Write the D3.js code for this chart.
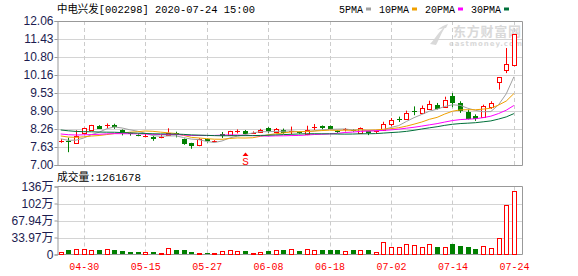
<!DOCTYPE html>
<html>
<head>
<meta charset="utf-8">
<title>中电兴发 K线</title>
<script src="https://d3js.org/d3.v7.min.js"></script>
<style>
  body { margin: 0; background: #fff; }
  svg { display: block; }
</style>
</head>
<body>
<script>
// trading days shown (2020)
var dates = ["04-27","04-28","04-29","04-30","05-06","05-07","05-08","05-11","05-12","05-13",
             "05-14","05-15","05-18","05-19","05-20","05-21","05-22","05-25","05-26","05-27",
             "05-28","05-29","06-01","06-02","06-03","06-04","06-05","06-08","06-09","06-10",
             "06-11","06-12","06-15","06-16","06-17","06-18","06-19","06-22","06-23","06-24",
             "06-29","06-30","07-01","07-02","07-03","07-06","07-07","07-08","07-09","07-10",
             "07-13","07-14","07-15","07-16","07-17","07-20","07-21","07-22","07-23","07-24"];
var opens  = [7.84,7.83,7.76,8.10,8.23,8.37,8.37,8.41,8.22,8.11,
              8.06,8.01,7.99,7.96,8.06,8.11,7.91,7.76,7.69,7.90,
              7.83,8.08,8.04,8.19,8.21,8.13,8.17,8.29,8.17,8.22,
              8.17,8.15,8.09,8.33,8.38,8.37,8.20,8.22,8.24,8.12,
              8.18,8.14,8.22,8.43,8.63,8.63,8.89,8.83,8.98,9.12,
              9.06,9.41,9.18,8.86,8.71,8.68,9.03,9.94,10.33,10.53];
var highs  = [7.91,7.96,8.22,8.31,8.41,8.40,8.46,8.45,8.25,8.14,
              8.08,8.09,8.02,8.05,8.29,8.17,7.93,7.78,7.94,7.93,
              7.87,8.16,8.20,8.25,8.23,8.18,8.27,8.33,8.30,8.28,
              8.35,8.17,8.38,8.44,8.39,8.39,8.22,8.30,8.26,8.32,
              8.20,8.20,8.52,8.65,8.70,8.91,9.06,9.09,9.26,9.18,
              9.40,9.53,9.24,8.94,8.78,9.12,9.24,10.10,11.11,11.61];
var lows   = [7.78,7.45,7.74,8.08,8.22,8.27,8.29,8.27,8.04,8.03,
              8.01,7.97,7.85,7.94,8.02,7.97,7.71,7.57,7.66,7.79,
              7.80,7.95,8.02,8.11,8.08,8.10,8.14,8.13,8.12,8.10,
              8.08,8.10,8.05,8.23,8.25,8.25,8.13,8.18,8.17,8.10,
              8.05,8.12,8.20,8.36,8.51,8.62,8.75,8.80,8.94,8.95,
              9.03,9.03,8.83,8.60,8.55,8.66,8.97,9.65,10.23,10.47];
var closes = [7.85,7.78,8.02,8.29,8.39,8.28,8.39,8.33,8.11,8.08,
              8.03,8.03,7.91,8.00,8.14,8.04,7.73,7.64,7.90,7.83,
              7.85,8.00,8.18,8.20,8.11,8.14,8.23,8.17,8.26,8.13,
              8.19,8.11,8.22,8.35,8.30,8.27,8.16,8.25,8.19,8.30,
              8.11,8.18,8.44,8.57,8.62,8.83,8.86,9.00,9.14,8.98,
              9.30,9.15,8.91,8.63,8.61,9.06,9.18,10.10,10.55,11.61];
// volume, 万
var volumes = [4,8,11.4,11.4,8.8,8,11,9.4,7.4,5.4,
               5.4,5,5.4,3.4,12.8,8,8,4,3,3.4,
               3.4,7.4,9.4,7.4,7.4,3.4,5.4,6,9.4,8,
               10.7,7.4,10.7,9.4,8,9.4,9.4,7.4,8,9.4,
               9.4,5.4,25.4,15.4,14.7,20.7,18.7,14.7,20.7,15.4,
               14.7,21.4,17.4,15.4,11.4,16.7,12.7,32.7,98.7,126.1678];
// closes before 04-27, needed for the moving averages
var prevCloses = [8.62,8.70,8.55,8.48,8.60,8.52,8.41,8.45,8.38,8.40,
                  8.30,8.22,8.15,8.20,8.12,8.08,8.18,8.14,8.10,8.11,
                  8.16,8.13,8.10,8.12,8.09,8.05,7.98,7.92,7.80];

var priceTicks = [7.00, 7.63, 8.26, 8.90, 9.53, 10.16, 10.80, 11.43, 12.06];
var volTicks = [0, 33.97, 67.94, 101.91, 135.88];
var volTickLabels = ["0", "33.97万", "67.94万", "102万", "136万"];
var xTickDates = ["04-30","05-15","05-27","06-08","06-18","07-02","07-14","07-24"];
var maPeriods = [5, 10, 20, 30];
var maNames = ["5PMA", "10PMA", "20PMA", "30PMA"];
var maColors = ["#a0a0a0", "#f0a000", "#ff00ff", "#00703a"];
var signalDate = "06-03";

var W = 578, H = 276;
var left = 57, right = 522;
var red = "#ff0000", green = "#008000";
var mono = "'Liberation Mono','Noto Sans CJK SC',monospace";

var svg = d3.select("body").append("svg").attr("width", W).attr("height", H);

var x = d3.scalePoint().domain(dates).range([60.7, 513.9]);
var y = d3.scaleLinear().domain([7.00, 12.06]).range([165, 21]);
var yv = d3.scaleLinear().domain([0, 135.88]).range([254.5, 186.5]);

function px(v) { return Math.round(v) + 0.5; }
function monoText(sel, str) {
  var n = 0;
  for (var k = 0; k < str.length; k++) n += str.charCodeAt(k) > 255 ? 2 : 1;
  sel.attr("font-family", mono).attr("font-size", 11)
     .attr("textLength", n * 6).attr("lengthAdjust", "spacingAndGlyphs").text(str);
}

// title + legend
monoText(svg.append("text").attr("x", 57).attr("y", 13).attr("fill", "#000"),
         "中电兴发[002298] 2020-07-24 15:00");
var lx = 339;
maNames.forEach(function(nm, k) {
  monoText(svg.append("text").attr("x", lx).attr("y", 13).attr("fill", "#000"), nm);
  var tw = nm.length * 6;
  svg.append("rect").attr("x", lx + tw + 3).attr("y", 7.5).attr("width", 5).attr("height", 3)
     .attr("fill", maColors[k]);
  lx += tw + 3 + 5 + 8;
});

// watermark
var wm = svg.append("g").attr("fill", "#d9d9d9");
wm.append("path").attr("d", "M430,44 C436,38 438,32 446,26 C441,33 440,38 436,45 Z M437,30 C441,27 444,25 448,24 L446,28 C443,28 440,29 437,30 Z");
wm.append("text").attr("x", 453).attr("y", 36).attr("font-family", "'Noto Sans CJK SC'")
  .attr("font-size", 13).attr("font-weight", "bold").attr("textLength", 68).text("东方财富网");
wm.append("text").attr("x", 449).attr("y", 46).attr("font-family", "'DejaVu Sans'")
  .attr("font-size", 7).attr("font-weight", "bold").attr("textLength", 73).text("eastmoney.com");

// ---- price panel grid
var gp = svg.append("g");
gp.selectAll(".hg").data(priceTicks.slice(1, -1)).enter().append("line")
  .attr("x1", left).attr("x2", right)
  .attr("y1", function(d) { return px(y(d)); }).attr("y2", function(d) { return px(y(d)); })
  .attr("stroke", "#d4d4d4");
gp.selectAll(".vg").data(xTickDates).enter().append("line")
  .attr("x1", function(d) { return px(x(d)); }).attr("x2", function(d) { return px(x(d)); })
  .attr("y1", 21).attr("y2", 165)
  .attr("stroke", "#cccccc").attr("stroke-dasharray", "4,3");
gp.append("path").attr("d", "M" + (left + 0.5) + ",21.5H" + (right + 0.5) + "V165.5H" + (left + 0.5))
  .attr("fill", "none").attr("stroke", "#999");

var yAxis = svg.append("g").attr("transform", "translate(" + (left + 0.5) + ",0)")
  .call(d3.axisLeft(y).tickValues(priceTicks).tickSize(3).tickPadding(1)
        .tickFormat(function(d) { return d.toFixed(2); }));
yAxis.selectAll("path,line").attr("stroke", "#999");
yAxis.selectAll("text").attr("font-family", "'Liberation Sans',Arial,sans-serif")
  .attr("font-size", 12).attr("fill", "#1c1c50");
yAxis.selectAll(".tick").attr("transform", function(d) { return "translate(0," + px(y(d)) + ")"; });

// ---- candles
var gc = svg.append("g");
dates.forEach(function(dt, i) {
  var cx = px(x(dt));
  var o = opens[i], c = closes[i];
  var up = c >= o;
  var col = up ? red : green;
  var yt = y(Math.max(o, c)), yb = y(Math.min(o, c));
  if (yb - yt < 1.5) {
    gc.append("line").attr("x1", cx).attr("x2", cx).attr("y1", y(highs[i])).attr("y2", y(lows[i])).attr("stroke", col);
    gc.append("line").attr("x1", cx - 2.5).attr("x2", cx + 2.5).attr("y1", px(yt)).attr("y2", px(yt)).attr("stroke", col);
    return;
  }
  if (up) {
    gc.append("line").attr("x1", cx).attr("x2", cx).attr("y1", y(highs[i])).attr("y2", yt).attr("stroke", col);
    gc.append("line").attr("x1", cx).attr("x2", cx).attr("y1", yb).attr("y2", y(lows[i])).attr("stroke", col);
    gc.append("rect").attr("x", cx - 2).attr("width", 4)
      .attr("y", px(yt)).attr("height", Math.max(1, Math.round(yb - yt)))
      .attr("fill", "#fff").attr("stroke", col);
  } else {
    gc.append("line").attr("x1", cx).attr("x2", cx).attr("y1", y(highs[i])).attr("y2", y(lows[i])).attr("stroke", col);
    gc.append("rect").attr("x", cx - 2.5).attr("width", 5)
      .attr("y", Math.round(yt)).attr("height", Math.max(1, Math.round(yb - yt)))
      .attr("fill", col);
  }
});

// ---- moving averages
var allCloses = prevCloses.concat(closes);
var off = prevCloses.length;
maPeriods.forEach(function(p, k) {
  var ma = closes.map(function(c, i) {
    return d3.mean(allCloses.slice(off + i - p + 1, off + i + 1));
  });
  svg.append("path").datum(ma)
    .attr("d", d3.line().x(function(d, i) { return x(dates[i]); }).y(function(d) { return y(d); }))
    .attr("fill", "none").attr("stroke", maColors[k]).attr("stroke-width", 1);
});

// signal marker
var sx = px(x(signalDate));
svg.append("path").attr("d", "M" + sx + ",152.5L" + (sx - 3) + ",156L" + (sx + 3) + ",156Z").attr("fill", red);
svg.append("text").attr("x", sx).attr("y", 165).attr("text-anchor", "middle")
  .attr("font-family", mono).attr("font-size", 11).attr("fill", red).text("S");

// ---- volume panel
monoText(svg.append("text").attr("x", 57).attr("y", 181).attr("fill", "#000"),
         "成交量:" + Math.round(volumes[volumes.length - 1] * 10000));

var gv = svg.append("g");
gv.selectAll(".hg").data(volTicks.slice(1, -1)).enter().append("line")
  .attr("x1", left).attr("x2", right)
  .attr("y1", function(d) { return px(yv(d)); }).attr("y2", function(d) { return px(yv(d)); })
  .attr("stroke", "#d4d4d4");
gv.selectAll(".vg").data(xTickDates).enter().append("line")
  .attr("x1", function(d) { return px(x(d)); }).attr("x2", function(d) { return px(x(d)); })
  .attr("y1", 186.5).attr("y2", 254.5)
  .attr("stroke", "#cccccc").attr("stroke-dasharray", "4,3");
gv.append("path").attr("d", "M" + (left + 0.5) + ",186.5H" + (right + 0.5) + "V254.5H" + (left + 0.5))
  .attr("fill", "none").attr("stroke", "#999");

var vAxis = svg.append("g").attr("transform", "translate(" + (left + 0.5) + ",0)")
  .call(d3.axisLeft(yv).tickValues(volTicks).tickSize(3).tickPadding(1)
        .tickFormat(function(d, i) { return volTickLabels[i]; }));
vAxis.selectAll("path,line").attr("stroke", "#999");
vAxis.selectAll("text").attr("font-family", "'Liberation Sans','Noto Sans CJK SC',sans-serif")
  .attr("font-size", 12).attr("fill", "#1c1c50");

dates.forEach(function(dt, i) {
  var cx = px(x(dt));
  var prev = i > 0 ? closes[i - 1] : prevCloses[prevCloses.length - 1];
  var upV = closes[i] >= prev;
  var top = yv(volumes[i]);
  if (upV) {
    gv.append("rect").attr("x", cx - 2).attr("width", 4)
      .attr("y", px(top)).attr("height", Math.max(1, 254 - Math.round(top)))
      .attr("fill", "#fff").attr("stroke", red);
  } else {
    gv.append("rect").attr("x", cx - 2.5).attr("width", 5)
      .attr("y", Math.round(top)).attr("height", 254 - Math.round(top))
      .attr("fill", green);
  }
});

// x labels
var xAxis = svg.append("g").attr("transform", "translate(0,258)")
  .call(d3.axisBottom(x).tickValues(xTickDates).tickSize(0).tickPadding(0));
xAxis.select(".domain").remove();
xAxis.selectAll("text").attr("dy", null).attr("y", 12).attr("fill", red)
  .each(function(d) { monoText(d3.select(this), d); });
</script>
</body>
</html>
